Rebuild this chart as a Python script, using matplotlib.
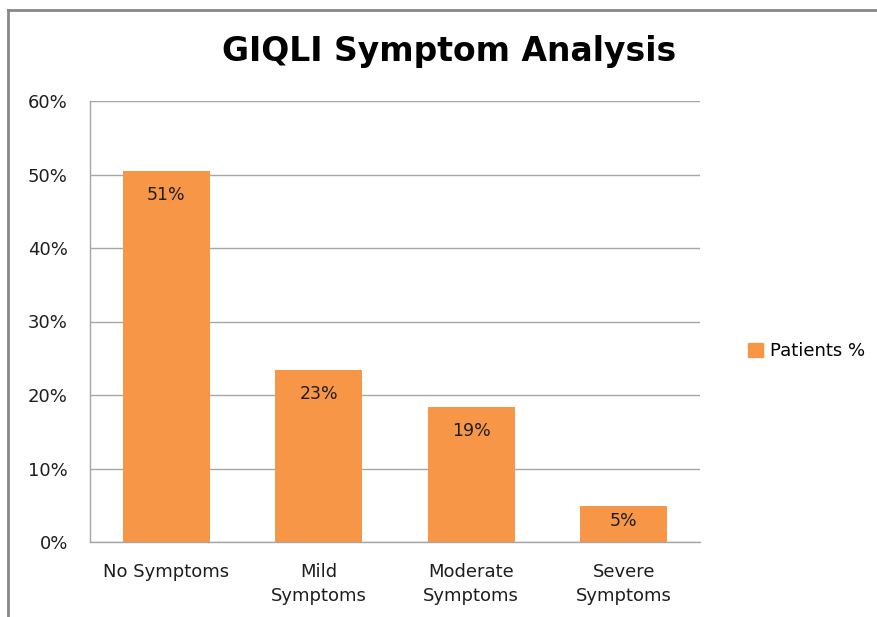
import matplotlib.pyplot as plt
from matplotlib.patches import Patch
from matplotlib.lines import Line2D

# dados do gráfico
categorias = ["No Symptoms", "Mild\nSymptoms", "Moderate\nSymptoms", "Severe\nSymptoms"]
valores = [50.5, 23.4, 18.4, 4.9]
rotulos = ["51%", "23%", "19%", "5%"]
yticks = [0, 10, 20, 30, 40, 50, 60]
ytick_labels = ["0%", "10%", "20%", "30%", "40%", "50%", "60%"]
serie = "Patients %"

laranja = "#F79646"
cinza = "#A6A6A6"

fig = plt.figure(figsize=(8.77, 6.17), dpi=100)
ax = fig.add_axes([90 / 877, 1 - 542 / 617, 610 / 877, 441 / 617])

x = range(len(categorias))
barras = ax.bar(x, valores, width=0.57, color=laranja, zorder=2)

ax.set_xlim(-0.5, 3.5)
ax.set_ylim(0, 60)

# rótulos dentro das barras (barras baixas: rótulo mais perto do topo)
px_por_unidade = 441 / 60
for b, txt in zip(barras, rotulos):
    altura_px = b.get_height() * px_por_unidade
    desloc = min(24, altura_px * 0.42)
    ax.annotate(txt, (b.get_x() + b.get_width() / 2, b.get_height()),
                xytext=(0, -desloc), textcoords="offset pixels",
                ha="center", va="center", fontsize=12.5, color="#1e1e1e")

ax.set_yticks(yticks)
ax.set_yticklabels(ytick_labels)
ax.set_xticks(list(x))
ax.set_xticklabels(categorias, linespacing=1.47)
ax.yaxis.grid(True, color=cinza, linewidth=1, zorder=0)
ax.tick_params(axis="y", length=0, pad=16, labelsize=13, labelcolor="#1e1e1e")
ax.tick_params(axis="x", length=0, pad=15, labelsize=13, labelcolor="#1e1e1e")
for s in ["top", "right"]:
    ax.spines[s].set_visible(False)
for s in ["left", "bottom"]:
    ax.spines[s].set_color(cinza)
    ax.spines[s].set_linewidth(1)

fig.text(449 / 877, 1 - 52 / 617, "GIQLI Symptom Analysis", ha="center", va="center",
         fontsize=23.8, fontweight="bold", color="black")

fig.legend(handles=[Patch(color=laranja, label=serie)], loc="center left",
           bbox_to_anchor=(732 / 877, 1 - 351 / 617), frameon=False,
           fontsize=13, handlelength=0.8, handleheight=0.8, handletextpad=0.4)

# borda da área do gráfico (apenas topo e esquerda visíveis)
fig.add_artist(Line2D([8 / 877, 1], [1 - 10 / 617, 1 - 10 / 617], color="#878787", lw=2))
fig.add_artist(Line2D([8 / 877, 8 / 877], [0, 1 - 10 / 617], color="#878787", lw=2))

fig.savefig("out.png", dpi=100)
